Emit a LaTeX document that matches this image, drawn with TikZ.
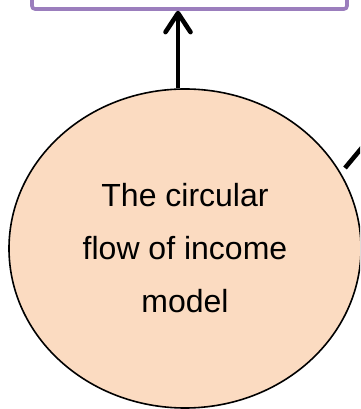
\documentclass[tikz,border=0pt]{standalone}
\usepackage{fontspec}
\setmainfont{Liberation Sans}
\usetikzlibrary{shapes.geometric,arrows.meta}
\definecolor{peach}{HTML}{FBDBC1}
\definecolor{boxpurple}{HTML}{9B7EBD}
\begin{document}
\begin{tikzpicture}[x=1pt,y=1pt,
  topbox/.style={draw=boxpurple, line width=3.6pt, rounded corners=3pt, fill=white, minimum width=315pt, minimum height=60pt, inner sep=0pt},
  flowcirc/.style={ellipse, draw=black, line width=1.6pt, fill=peach, minimum width=352pt, minimum height=319pt, inner sep=0pt, align=center, font=\fontsize{32}{53}\selectfont},
  conn/.style={line width=4.6pt, black},
  upconn/.style={conn, -{Straight Barb[length=19pt,width=25pt,line cap=round,line join=round]}}]
\useasboundingbox (0,0) rectangle (360,409);
\clip (0,0) rectangle (360,409);
\node[topbox] (box) at (189.5,430) {};
\node[flowcirc] (c) at (185,160.5) {The circular\\flow of income\\model};
\coordinate (cup) at ([xshift=-7pt]c.north);
\draw[upconn] (cup) -- (cup |- box.south);
\coordinate (rs) at (345,241);
\coordinate (re) at (380,283);
\draw[conn] (rs) -- (re);
\end{tikzpicture}
\end{document}
